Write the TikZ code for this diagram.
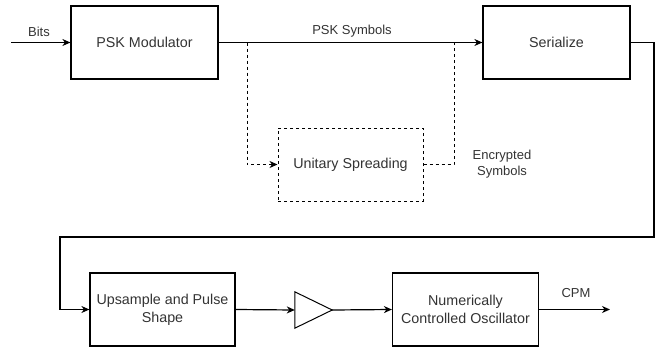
\documentclass[tikz,border=0pt]{standalone}
\usepackage{fontspec}
\setmainfont{Liberation Sans}
\usetikzlibrary{arrows.meta,calc}
\definecolor{txt}{HTML}{333333}
\tikzset{
  x=1pt, y=-1pt,
  block/.style={draw=black, line width=1.2pt, minimum width=147pt, minimum height=73pt,
    inner sep=0pt, align=center, text=txt, font=\fontsize{14.3}{18.3}\selectfont},
  lbl/.style={text=txt, align=center, inner sep=0pt, font=\fontsize{13}{16.7}\selectfont},
  wire/.style={line width=1.2pt, draw=black},
  flow/.style={wire, -{Stealth[length=8pt,width=7pt,inset=2.5pt]}},
  dashwire/.style={line width=1pt, draw=black, dash pattern=on 3pt off 3pt},
}
\begin{document}
\begin{tikzpicture}
\useasboundingbox (0,0) rectangle (667,351);

% processing blocks
\node[block] (psk) at (144.5,42.5) {PSK Modulator};
\node[block] (ser) at (556.5,42.5) {Serialize};
\node[block, line width=1pt, dash pattern=on 3pt off 3pt, minimum width=145pt] (uni) at (350.5,164.5) {Unitary Spreading};
\node[block, minimum width=145pt] (ups) at (162.5,309.5) {Upsample and Pulse\\Shape};
\node[block, minimum width=146pt] (nco) at (465.5,309.5) {Numerically\\Controlled Oscillator};

% amplifier triangle
\node[minimum width=37pt, minimum height=36pt, inner sep=0pt] (amp) at (313.5,310) {};
\draw[wire, line width=1pt] (amp.north west) -- (amp.east) -- (amp.south west) -- cycle;

% routing points
\coordinate (bitsin) at (11,42.5);
\coordinate (tapA) at (247,42.5);
\coordinate (tapB) at (454,42.5);
\coordinate (turn) at (654,237);
\coordinate (back) at (60,309.5);
\coordinate (cpmout) at (610,309.5);

% connectors
\draw[flow] (bitsin) -- (psk.west);
\draw[flow] (psk.east) -- (ser.west);
\draw[dashwire, -{Stealth[length=8pt,width=7pt,inset=2.5pt]}] (tapA) |- (uni.west);
\draw[dashwire] (uni.east) -| (tapB);
\draw[wire] (ser.east) -| (turn) -| (back);
\draw[flow] (back) -- (ups.west);
\draw[flow] (ups.east) -- (amp.west);
\draw[flow] (amp.east) -- (nco.west);
\draw[flow] (nco.east) -- (cpmout);

% labels
\node[lbl] (bitslbl) at (39,32) {Bits};
\node[lbl] (psklbl) at (352,31) {PSK Symbols};
\node[lbl] (enclbl) at (502,164) {Encrypted\\Symbols};
\node[lbl] (cpmlbl) at (576,293) {CPM};
\end{tikzpicture}
\end{document}
